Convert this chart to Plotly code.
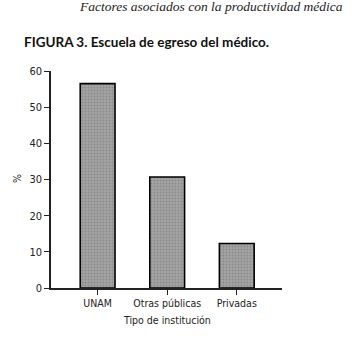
import plotly.graph_objects as go

categories = ["UNAM", "Otras públicas", "Privadas"]
values = [56.5, 30.7, 12.3]
y_ticks = [0, 10, 20, 30, 40, 50, 60]

W, H = 359, 337
L, R, T, B = 51, 77, 71, 49
pw, ph = W - L - R, H - T - B

def px(x):
    return (x - L) / pw

def py(y):
    return (H - B - y) / ph

narrow = "DejaVu Sans Condensed"

fig = go.Figure(go.Bar(
    x=categories, y=values, width=0.5,
    marker=dict(color="#9c9c9c", line=dict(color="black", width=1.6),
                pattern=dict(shape=".", fgcolor="#6e6e6e", bgcolor="#a4a4a4", size=3, solidity=0.3)),
))

fig.update_layout(
    width=W, height=H, margin=dict(l=L, r=R, t=T, b=B),
    paper_bgcolor="white", plot_bgcolor="white", showlegend=False,
    font=dict(family=narrow, size=11, color="#222"),
    xaxis=dict(range=[-0.67, 2.65], showline=True, linecolor="#222", linewidth=1.5,
               ticks="outside", ticklen=5, tickwidth=1.3, tickcolor="#222",
               showgrid=False, zeroline=False, tickfont=dict(family=narrow, size=10.5)),
    yaxis=dict(range=[0, 60], tickvals=y_ticks, showline=True, linecolor="#222", linewidth=1.5,
               ticks="outside", ticklen=5, tickwidth=1.3, tickcolor="#222",
               showgrid=False, zeroline=False, tickfont=dict(family=narrow, size=11)),
    annotations=[
        dict(text="Factores asociados con la productividad médica", xref="paper", yref="paper",
             x=px(345), y=py(7), xanchor="right", yanchor="middle", showarrow=False,
             font=dict(family="Liberation Serif, serif", size=13.5, color="#222", style="italic")),
        dict(text="<b>FIGURA 3. Escuela de egreso del médico.</b>", xref="paper", yref="paper",
             x=px(22), y=py(42), xanchor="left", yanchor="middle", showarrow=False,
             font=dict(family="Lato, Open Sans, sans-serif", size=13.5, color="#111")),
        dict(text="%", xref="paper", yref="paper", x=px(17), y=py(179), textangle=-90,
             xanchor="center", yanchor="middle", showarrow=False, font=dict(family=narrow, size=10.5)),
        dict(text="Tipo de institución", xref="paper", yref="paper", x=px(167), y=py(320),
             xanchor="center", yanchor="middle", showarrow=False, font=dict(family=narrow, size=10.5)),
    ],
)

fig.write_html("out.html")
